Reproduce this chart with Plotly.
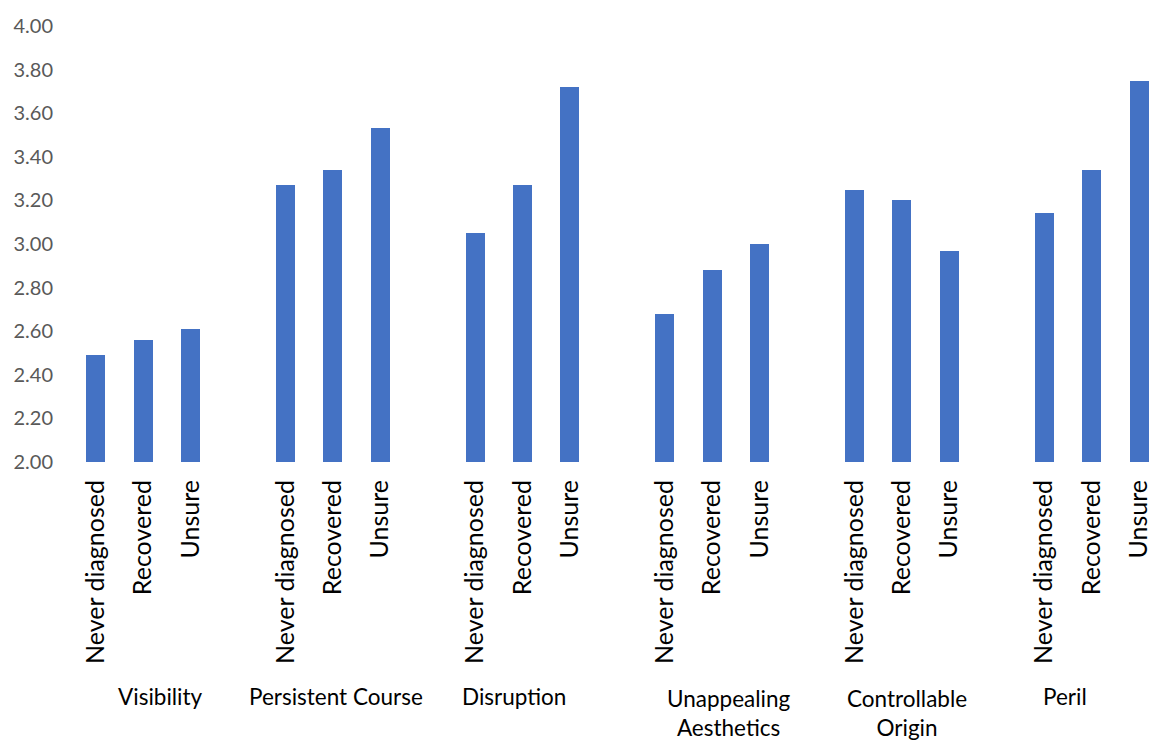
import plotly.graph_objects as go

groups = ["Visibility", "Persistent Course", "Disruption",
          "Unappealing<br>Aesthetics", "Controllable<br>Origin", "Peril"]
subcats = ["Never diagnosed", "Recovered", "Unsure"]
never_diagnosed = [2.49, 3.27, 3.05, 2.68, 3.25, 3.14]
recovered = [2.56, 3.34, 3.27, 2.88, 3.20, 3.34]
unsure = [2.61, 3.53, 3.72, 3.00, 2.97, 3.75]
# horizontal label offsets (in category slots, relative to each group's first bar)
group_label_offsets = [1.36, 1.07, 0.81, 1.35, 1.11, 0.43]
y_ticks = [2.0, 2.2, 2.4, 2.6, 2.8, 3.0, 3.2, 3.4, 3.6, 3.8, 4.0]

SLOTS = 4  # 3 bars + 1 blank slot per group
xs, ys, labels = [], [], []
series = [never_diagnosed, recovered, unsure]
for gi, g in enumerate(groups):
    for si, s in enumerate(subcats):
        xs.append(gi * SLOTS + si)
        ys.append(series[si][gi])
        labels.append(s)

FONT = "Lato, Calibri, sans-serif"
fig = go.Figure()
fig.add_trace(go.Bar(x=xs, y=ys, width=0.4, marker=dict(color="#4472C4", line=dict(width=0)),
                     hoverinfo="y"))

# plot area pixel geometry
top_px, bottom_px = 26.3, 461.7
H = 740

def paper_y(px):
    return (bottom_px - px) / (bottom_px - top_px)

for gi, g in enumerate(groups):
    two_line = "<br>" in g
    fig.add_annotation(
        x=gi * SLOTS + group_label_offsets[gi], xref="x",
        y=paper_y(682 if two_line else 696), yref="paper",
        text=g, showarrow=False,
        yanchor="top" if two_line else "middle", xanchor="center",
        font=dict(family=FONT, size=22.5, color="#000000"),
    )

fig.update_layout(
    width=1152, height=740,
    margin=dict(l=72, r=0, t=top_px, b=H - bottom_px, pad=0),
    paper_bgcolor="white", plot_bgcolor="white",
    showlegend=False,
    bargap=0,
    xaxis=dict(
        range=[-0.5, 22.21],
        tickmode="array", tickvals=xs, ticktext=labels,
        tickangle=-90, showgrid=False, zeroline=False, showline=False,
        ticks="", ticklabelstandoff=12, ticklabeloverflow="allow",
        tickfont=dict(family=FONT, size=25, color="#000000"),
    ),
    yaxis=dict(
        range=[2, 4], tickmode="array", tickvals=y_ticks, tickformat=".2f",
        showgrid=False, zeroline=False, showline=False, ticks="",
        ticklabelstandoff=18,
        tickfont=dict(family=FONT, size=20, color="#595959"),
    ),
)

fig.write_html("out.html")
